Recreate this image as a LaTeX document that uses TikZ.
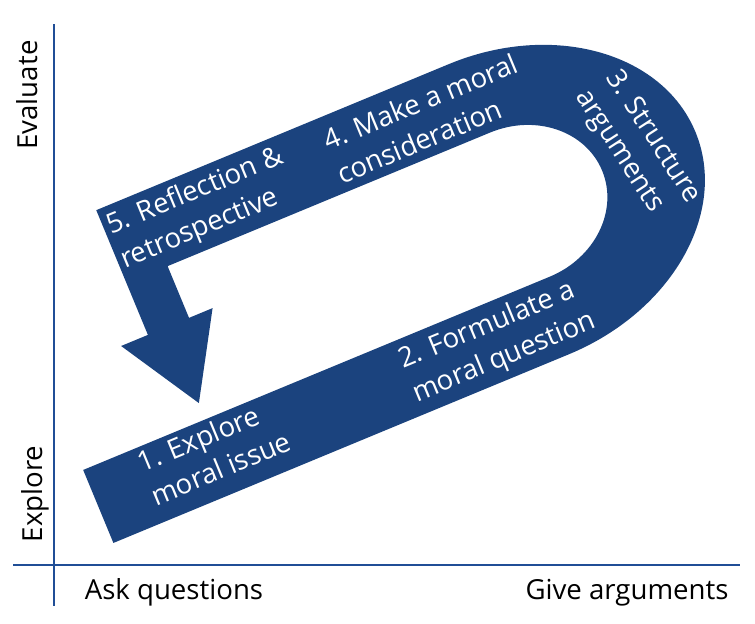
\documentclass[tikz,border=0pt]{standalone}
\usepackage{fontspec}
\setmainfont{Open Sans}
\definecolor{bandblue}{RGB}{27,67,126}
\definecolor{axisblue}{RGB}{32,78,150}
\tikzset{
  steptext/.style={text=white, align=left, inner sep=0pt, anchor=west,
    font=\fontsize{13.8}{18}\selectfont},
  bandtext/.style={steptext, rotate=22.5},
  axislabel/.style={anchor=base, inner sep=0pt, font=\fontsize{13.8}{18}\selectfont},
  axisline/.style={axisblue, line width=1.3pt}
}
\begin{document}
\begin{tikzpicture}[x=0.5pt,y=-0.5pt]
    \useasboundingbox (0,0) rectangle (755,623);
    % Eixos
    \coordinate (ytop) at (54,24);
    \coordinate (ybot) at (54,606);
    \coordinate (xleft) at (13,565);
    \coordinate (xright) at (740,565);
    \draw[axisline] (ytop) -- (ybot);
    \draw[axisline] (xleft) -- (xright);
    \node[axislabel, rotate=90] (evaluate) at (37,95) {Evaluate};
    \node[axislabel, rotate=90] (explore) at (42,494) {Explore};
    \node[axislabel] (ask) at (174,599) {Ask questions};
    \node[axislabel] (give) at (627,599) {Give arguments};
    % Fletxa en U (eixos girats 22.5 graus)
    \begin{scope}[x={(0.46194pt,0.19134pt)}, y={(-0.19134pt,0.46194pt)}]
        \fill[bandblue] (-103,-545) -- (390,-545)
            arc[start angle=-90, end angle=90, x radius=202, y radius=157]
            -- (8.5,-231) -- (8.5,-366) -- (-20.5,-366) -- (29.5,-448.5)
            -- (78.5,-366) -- (53,-366) -- (53,-310) -- (402,-310)
            arc[start angle=90, end angle=-90, x radius=89, y radius=78]
            -- (-103,-466) -- cycle;
    \end{scope}
    % Passos
    \node[bandtext] (s1) at (145,480) {1. Explore\\moral issue};
    \node[bandtext] (s2) at (407,379) {2. Formulate a\\moral question};
    \node[steptext, rotate=-57] (s3) at (596,83) {3. Structure\\arguments};
    \node[bandtext] (s4) at (331,158) {4. Make a moral\\consideration};
    \node[bandtext] (s5) at (115,245) {5. Reflection \&\\retrospective};
\end{tikzpicture}
\end{document}
